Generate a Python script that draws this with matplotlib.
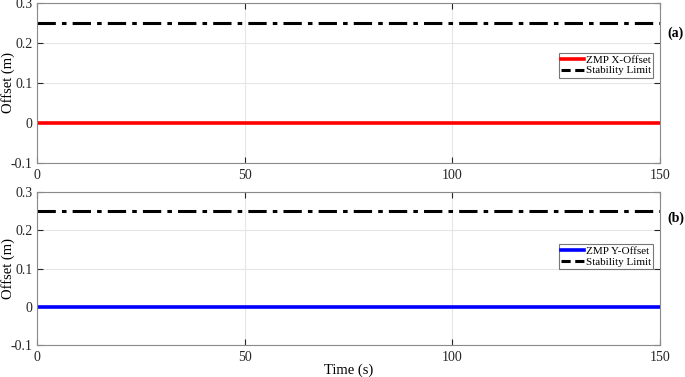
import numpy as np
import matplotlib.pyplot as plt

plt.rcParams['font.family'] = ['Liberation Serif', 'DejaVu Serif']

# data
time = [0, 150]
zmp_x = [0, 0]
zmp_y = [0, 0]
limit = [0.25, 0.25]
xticks = [0, 50, 100, 150]
yticks = [-0.1, 0, 0.1, 0.2, 0.3]
ytick_labels = ['-0.1', '0', '0.1', '0.2', '0.3']

fig = plt.figure(figsize=(6.85, 3.77), dpi=100)
W, H = 685, 377
ax1 = fig.add_axes([37 / W, 1 - 163 / H, 623 / W, 160 / H])
ax2 = fig.add_axes([37 / W, 1 - 345 / H, 623 / W, 153 / H])

panels = [(ax1, zmp_x, 'red', 'ZMP X-Offset', '(a)', 0.61, 0.81),
          (ax2, zmp_y, 'blue', 'ZMP Y-Offset', '(b)', 0.578, 0.83)]

for ax, zmp, col, lab, tag, ly, ty in panels:
    ax.plot(time, zmp, color=col, lw=2.6, label=lab)
    ax.plot(time, limit, color='black', lw=2.2, ls=(0, (6, 2, 1.5, 2)))
    # legend shows a dashed stroke
    ax.plot([], [], color='black', lw=2.2, ls=(0, (3, 1.5)), label='Stability Limit')
    ax.set_xlim(0, 150)
    ax.set_ylim(-0.1, 0.3)
    ax.set_xticks(xticks)
    ax.set_yticks(yticks)
    ax.set_yticklabels(ytick_labels)
    ax.grid(True, color='#e6e6e6', lw=0.8)
    ax.set_axisbelow(True)
    ax.tick_params(direction='in', length=4, labelsize=10, colors='#262626',
                   top=True, right=True)
    ax.tick_params(axis='x', pad=4)
    ax.tick_params(axis='y', pad=3)
    for s in ax.spines.values():
        s.set_color('#8a8a8a')
        s.set_linewidth(0.8)
    ax.set_ylabel('Offset (m)', fontsize=10.5)
    ax.yaxis.set_label_coords((15 - 37) / 623, 0.5)
    h, l = ax.get_legend_handles_labels()
    leg = ax.legend([h[0], h[1]], [l[0], l[1]], loc='center right',
                    bbox_to_anchor=(0.989, ly), fontsize=8, frameon=True,
                    fancybox=False, edgecolor='#555555', handlelength=2.1,
                    handletextpad=0.15, borderpad=0.2, labelspacing=0.05,
                    borderaxespad=0)
    leg.get_frame().set_linewidth(0.8)
    ax.text(1.025, ty, tag, transform=ax.transAxes, fontsize=10,
            fontweight='bold', ha='center', va='center')

ax2.set_xlabel('Time (s)', fontsize=10.5, labelpad=0)

fig.savefig('out.png', dpi=100)
